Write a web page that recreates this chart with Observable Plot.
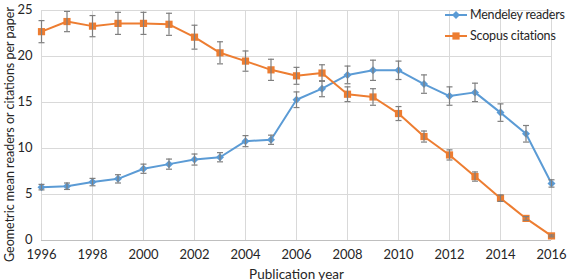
<!DOCTYPE html>
<html>
<head>
<meta charset="utf-8">
<script src="https://cdn.jsdelivr.net/npm/d3@7"></script>
<script src="https://cdn.jsdelivr.net/npm/@observablehq/plot@0.6"></script>
<style>
  html, body { margin: 0; padding: 0; background: #fff; }
  #wrap { position: relative; width: 567px; height: 280px; font-family: Lato, "Open Sans", sans-serif; }
  #legend { position: absolute; left: 445px; top: 4px; font-size: 12.5px; letter-spacing: -0.2px; color: #262626; white-space: nowrap; }
  #legend .item { display: flex; align-items: center; height: 21px; }
  #legend svg { margin-right: 3px; }
</style>
</head>
<body>
<div id="wrap">
  <div id="chart"></div>
  <div id="legend"></div>
</div>
<script>
const years = [1996, 1997, 1998, 1999, 2000, 2001, 2002, 2003, 2004, 2005, 2006, 2007, 2008, 2009, 2010, 2011, 2012, 2013, 2014, 2015, 2016];
const mendeley =    [5.8, 5.9, 6.35, 6.7, 7.8, 8.3, 8.8, 9.05, 10.8, 10.95, 15.3, 16.5, 18.0, 18.5, 18.5, 17.0, 15.7, 16.1, 13.9, 11.6, 6.2];
const mendeleyErr = [0.3, 0.35, 0.4, 0.45, 0.5, 0.55, 0.6, 0.5, 0.6, 0.5, 0.85, 0.87, 0.96, 1.1, 1.0, 1.0, 1.0, 1.0, 0.95, 0.9, 0.4];
const scopus =      [22.7, 23.8, 23.3, 23.6, 23.6, 23.5, 22.1, 20.4, 19.5, 18.55, 17.9, 18.2, 15.9, 15.6, 13.8, 11.3, 9.3, 6.95, 4.6, 2.4, 0.5];
const scopusErr =   [1.2, 1.1, 1.15, 1.2, 1.2, 1.2, 1.3, 1.2, 1.1, 1.15, 0.92, 0.9, 0.8, 0.9, 0.76, 0.6, 0.55, 0.5, 0.35, 0.2, 0.1];
const seriesNames = ["Mendeley readers", "Scopus citations"];
const colors = ["#5B9BD5", "#ED7D31"];
const yTicks = [0, 5, 10, 15, 20, 25];
const xTicks = [1996, 1998, 2000, 2002, 2004, 2006, 2008, 2010, 2012, 2014, 2016];

const rows = [];
years.forEach((yr, i) => {
  rows.push({year: yr, value: mendeley[i], err: mendeleyErr[i], series: seriesNames[0]});
  rows.push({year: yr, value: scopus[i], err: scopusErr[i], series: seriesNames[1]});
});

const diamond = {draw(ctx) { const s = 4; ctx.moveTo(0, -s); ctx.lineTo(s, 0); ctx.lineTo(0, s); ctx.lineTo(-s, 0); ctx.closePath(); }};
const square = {draw(ctx) { const s = 3.6; ctx.rect(-s, -s, 2 * s, 2 * s); }};
const cap = {draw(ctx) { const w = 3; ctx.moveTo(-w, 0); ctx.lineTo(w, 0); }};

const chart = Plot.plot({
  width: 567,
  height: 280,
  marginLeft: 41,
  marginRight: 16,
  marginTop: 10,
  marginBottom: 40,
  style: {fontFamily: "Lato, 'Open Sans', sans-serif", fontSize: "13px", color: "#262626", background: "#fff"},
  x: {domain: [1996, 2016]},
  y: {domain: [0, 25]},
  color: {domain: seriesNames, range: colors},
  marks: [
    Plot.gridY(yTicks, {stroke: "#d9d9d9", strokeOpacity: 1}),
    Plot.gridX(xTicks, {stroke: "#d9d9d9", strokeOpacity: 1}),
    Plot.ruleY([0], {stroke: "#bfbfbf"}),
    Plot.axisY(yTicks, {tickSize: 0, tickPadding: 9, label: null, fontSize: 13, dy: -1}),
    Plot.axisX(xTicks, {tickSize: 0, tickPadding: 9, label: null, tickFormat: d => String(d), fontSize: 13}),
    Plot.text(["Publication year"], {frameAnchor: "bottom", lineAnchor: "bottom", dy: 38, fontSize: 13.5}),
    Plot.text(["Geometric mean readers or citations per paper"], {frameAnchor: "left", textAnchor: "middle", dx: -32, dy: 9, rotate: -90, fontSize: 12.5}),
    Plot.line(rows, {x: "year", y: "value", z: "series", stroke: "series", strokeWidth: 2}),
    Plot.dot(rows.filter(d => d.series === seriesNames[0]), {x: "year", y: "value", symbol: diamond, fill: colors[0], stroke: null}),
    Plot.dot(rows.filter(d => d.series === seriesNames[1]), {x: "year", y: "value", symbol: square, fill: colors[1], stroke: null}),
    Plot.ruleX(rows, {x: "year", y1: d => d.value - d.err, y2: d => d.value + d.err, stroke: "#7f7f7f", strokeWidth: 1.2}),
    Plot.dot(rows, {x: "year", y: d => d.value - d.err, symbol: cap, fill: "none", stroke: "#7f7f7f", strokeWidth: 1.2}),
    Plot.dot(rows, {x: "year", y: d => d.value + d.err, symbol: cap, fill: "none", stroke: "#7f7f7f", strokeWidth: 1.2})
  ]
});
document.getElementById("chart").appendChild(chart);

const legend = document.getElementById("legend");
seriesNames.forEach((name, i) => {
  const item = document.createElement("div");
  item.className = "item";
  const marker = i === 0
    ? `<path d="M11,1 L15,5 L11,9 L7,5 Z" fill="${colors[i]}"/>`
    : `<rect x="7.4" y="1.4" width="7.2" height="7.2" fill="${colors[i]}"/>`;
  item.innerHTML = `<svg width="22" height="10"><line x1="0" y1="5" x2="22" y2="5" stroke="${colors[i]}" stroke-width="2"/>${marker}</svg><span>${name}</span>`;
  legend.appendChild(item);
});
</script>
</body>
</html>
